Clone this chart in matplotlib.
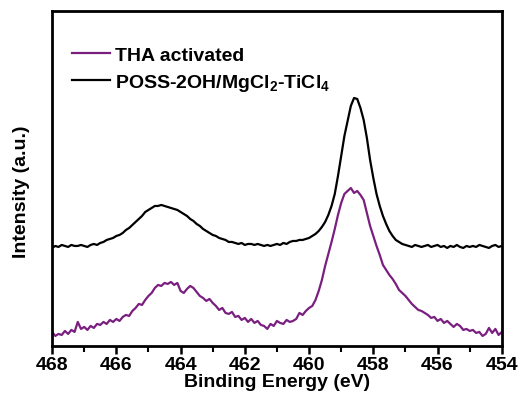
import numpy as np
import matplotlib
matplotlib.use("Agg")
import matplotlib.pyplot as plt
from matplotlib.ticker import MultipleLocator

# Binding energy grid, 468.0 -> 454.0 eV in 0.1 eV steps
energy = np.round(np.arange(468.0, 453.95, -0.1), 1)

# Intensity (arbitrary units)
tha_activated = [
    14, 10, 12, 11, 15, 12, 16, 14, 24, 17,
    19, 16, 20, 18, 22, 21, 24, 22, 26, 24,
    27, 25, 29, 31, 30, 35, 38, 42, 41, 46,
    50, 53, 58, 61, 60, 63, 62, 64, 61, 63,
    55, 53, 57, 60, 58, 54, 50, 48, 45, 47,
    43, 40, 36, 38, 33, 32, 34, 29, 30, 26,
    28, 24, 27, 23, 25, 21, 20, 17, 22, 20,
    25, 23, 22, 26, 24, 25, 27, 33, 31, 35,
    38, 40, 46, 55, 66, 80, 92, 104, 117, 131,
    143, 152, 155, 158, 153, 155, 151, 146, 133, 120,
    110, 100, 91, 81, 76, 71, 67, 62, 56, 53,
    50, 46, 42, 39, 36, 35, 33, 31, 28, 29,
    25, 27, 23, 25, 22, 19, 22, 20, 16, 17,
    15, 16, 13, 14, 10, 12, 18, 13, 17, 11,
    14,
]

poss_mgcl2_ticl4 = [
    98, 100, 99, 101, 100, 99, 101, 100, 100, 101,
    100, 99, 101, 102, 101, 103, 104, 106, 107, 108,
    110, 111, 113, 116, 118, 121, 124, 127, 130, 134,
    136, 138, 140, 140, 141, 140, 139, 138, 137, 136,
    134, 132, 130, 127, 125, 122, 120, 117, 115, 113,
    111, 110, 108, 107, 106, 104, 104, 103, 102, 103,
    101, 102, 102, 101, 102, 101, 100, 101, 100, 101,
    102, 101, 103, 102, 104, 105, 105, 106, 106, 107,
    108, 110, 112, 115, 119, 124, 131, 140, 152, 170,
    190, 210, 225, 240, 248, 247, 238, 226, 208, 186,
    168, 152, 140, 130, 122, 115, 110, 106, 104, 102,
    101, 100, 99, 101, 100, 99, 100, 101, 99, 100,
    101, 99, 100, 98, 100, 99, 101, 99, 98, 100,
    99, 100, 99, 101, 100, 99, 98, 100, 101, 99,
    100,
]

plt.rcParams['font.family'] = ['Liberation Sans', 'DejaVu Sans']
plt.rcParams['font.weight'] = 'bold'
plt.rcParams['mathtext.fontset'] = 'custom'
plt.rcParams['mathtext.bf'] = 'Liberation Sans:bold'
plt.rcParams['mathtext.rm'] = 'Liberation Sans:bold'
plt.rcParams['mathtext.default'] = 'bf'

fig = plt.figure(figsize=(5.26, 4.14), dpi=100)
ax = fig.add_axes([0.099, 0.162, 0.855, 0.809])

ax.plot(energy, tha_activated, color='#7a1f80', linewidth=1.6, label='THA activated')
ax.plot(energy, poss_mgcl2_ticl4, color='black', linewidth=1.6,
        label='POSS-2OH/MgCl$_2$-TiCl$_4$')

ax.set_xlim(468, 454)
ax.set_ylim(0, 335)
ax.xaxis.set_major_locator(MultipleLocator(2))
ax.xaxis.set_minor_locator(MultipleLocator(1))
ax.tick_params(axis='x', which='major', direction='out', length=6, width=1.8,
               labelsize=14, pad=1)
ax.tick_params(axis='x', which='minor', direction='out', length=4, width=1.5)
ax.set_yticks([])
for side in ax.spines.values():
    side.set_linewidth(2)

ax.set_xlabel('Binding Energy (eV)', fontsize=14, fontweight='bold', labelpad=0)
ax.set_ylabel('Intensity (a.u.)', fontsize=14, fontweight='bold')
ax.yaxis.set_label_coords(-0.05, 0.463)

ax.legend(loc='upper left', bbox_to_anchor=(0.027, 0.918), frameon=False,
          fontsize=14, handlelength=1.95, handletextpad=0.26, labelspacing=0.4,
          borderaxespad=0)

fig.savefig('out.png', dpi=100)
